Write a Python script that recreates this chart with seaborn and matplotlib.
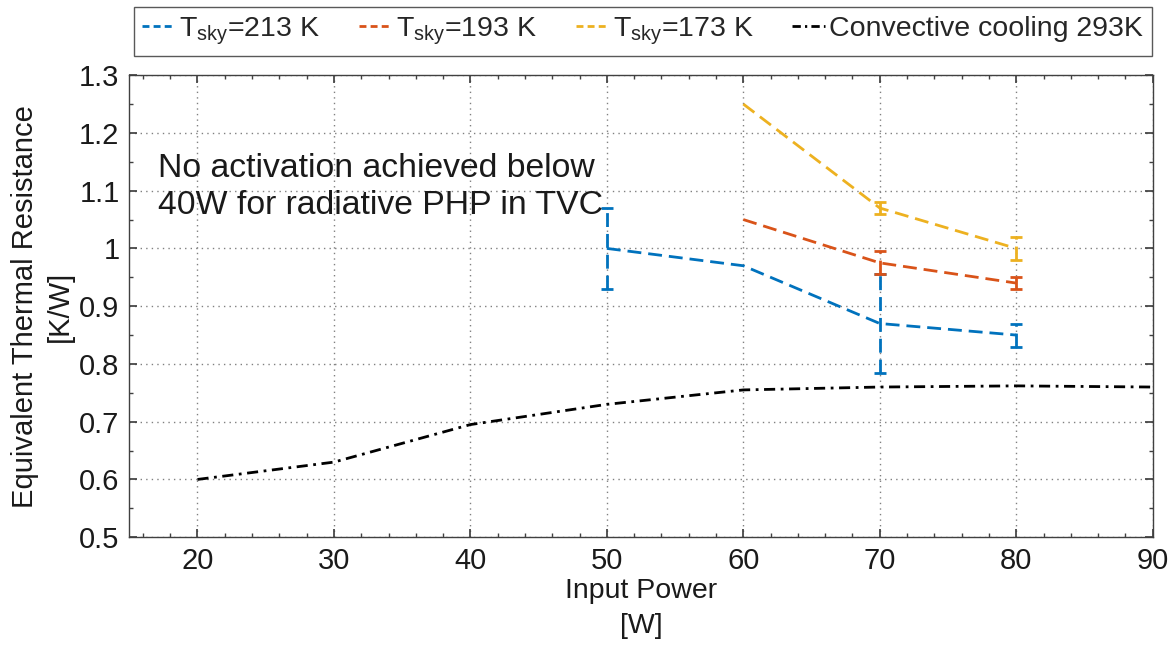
import numpy as np
import pandas as pd
import matplotlib
matplotlib.use("Agg")
import matplotlib.pyplot as plt
from matplotlib.ticker import MultipleLocator, FuncFormatter
from matplotlib.lines import Line2D
import seaborn as sns

# Measured equivalent thermal resistance [K/W] versus input power [W]
power_213 = [50, 60, 70, 80]
r_213 = [1.00, 0.97, 0.87, 0.85]
err_213 = [0.07, 0.0, 0.085, 0.02]

power_193 = [60, 70, 80]
r_193 = [1.05, 0.975, 0.94]
err_193 = [0.0, 0.02, 0.01]

power_173 = [60, 70, 80]
r_173 = [1.25, 1.07, 1.00]
err_173 = [0.0, 0.01, 0.02]

power_conv = [20, 30, 40, 50, 60, 70, 80, 90]
r_conv = [0.60, 0.63, 0.695, 0.73, 0.755, 0.76, 0.762, 0.76]

labels = [r"T$_{\rm sky}$=213 K", r"T$_{\rm sky}$=193 K", r"T$_{\rm sky}$=173 K",
          "Convective cooling 293K"]
colors = ["#0072BD", "#D95319", "#EDB120", "#000000"]

sns.set_theme(style="ticks")
plt.rcParams["font.family"] = ["Liberation Sans", "DejaVu Sans"]
plt.rcParams["mathtext.fontset"] = "custom"
plt.rcParams["mathtext.rm"] = "Liberation Sans"
plt.rcParams["mathtext.it"] = "Liberation Sans"

frames = []
for lab, p, r in zip(labels, [power_213, power_193, power_173, power_conv],
                     [r_213, r_193, r_173, r_conv]):
    frames.append(pd.DataFrame({"power": p, "resistance": r, "series": lab}))
df = pd.concat(frames, ignore_index=True)

fig = plt.figure(figsize=(11.75, 6.48), dpi=100)
ax = fig.add_axes([0.110, 0.171, 0.871, 0.713])

dash = (5, 2.5)
dashdot = (4, 2, 1, 2)
sns.lineplot(data=df, x="power", y="resistance", hue="series", style="series",
             hue_order=labels, style_order=labels, palette=colors,
             dashes=[dash, dash, dash, dashdot],
             linewidth=2.0, ax=ax, legend=False)

# Dashed error bars on the radiative series
for p, r, e, c in [(power_213, r_213, err_213, colors[0]),
                   (power_193, r_193, err_193, colors[1]),
                   (power_173, r_173, err_173, colors[2])]:
    p = np.array(p); r = np.array(r); e = np.array(e)
    m = e > 0
    eb = ax.errorbar(p[m], r[m], yerr=e[m], fmt="none", ecolor=c,
                     elinewidth=2.0, capsize=4, capthick=2.0)
    for lc in eb[2]:
        lc.set_linestyle((0, dash))

ax.set_xlim(15, 90)
ax.set_ylim(0.5, 1.3)
ax.xaxis.set_major_locator(MultipleLocator(10))
ax.xaxis.set_minor_locator(MultipleLocator(2))
ax.yaxis.set_major_locator(MultipleLocator(0.1))
ax.yaxis.set_minor_locator(MultipleLocator(0.05))
ax.yaxis.set_major_formatter(FuncFormatter(lambda v, _: f"{v:g}"))
ax.tick_params(which="both", direction="in", top=True, right=True, color="#404040")
ax.tick_params(which="major", length=6, labelsize=21, pad=7, labelcolor="#1a1a1a")
ax.tick_params(which="minor", length=3)
ax.grid(True, which="major", linestyle=(0, (1, 3)), color="#808080", linewidth=1.0)
for s in ax.spines.values():
    s.set_color("#404040")
    s.set_linewidth(1.0)

ax.set_xlabel("Input Power\n[W]", fontsize=20.5, labelpad=2, linespacing=1.45,
              color="#1a1a1a")
ax.set_ylabel("Equivalent Thermal Resistance\n[K/W]", fontsize=21, labelpad=0,
              linespacing=1.3, color="#1a1a1a")
ax.yaxis.set_label_coords(-0.054, 0.5)

ax.text(17.1, 1.107, "No activation achieved below\n40W for radiative PHP in TVC",
        fontsize=24.3, ha="left", va="center", linespacing=1.25, color="#1a1a1a")

handles = [Line2D([], [], color=c, lw=2.0, linestyle=ls)
           for c, ls in zip(colors, [(0, (2.5, 1.5))] * 3 + [(0, (3, 1.5, 0.8, 1.5))])]
leg = fig.legend(handles, labels, loc="upper center", bbox_to_anchor=(0.547, 1.0),
                 ncol=4, frameon=True, fancybox=False, edgecolor="#303030",
                 fontsize=20.5, handlelength=1.15, handletextpad=0.15,
                 columnspacing=1.35, borderpad=0.3, borderaxespad=0.25)
leg.get_frame().set_linewidth(1.0)

fig.savefig("out.png", dpi=100)
